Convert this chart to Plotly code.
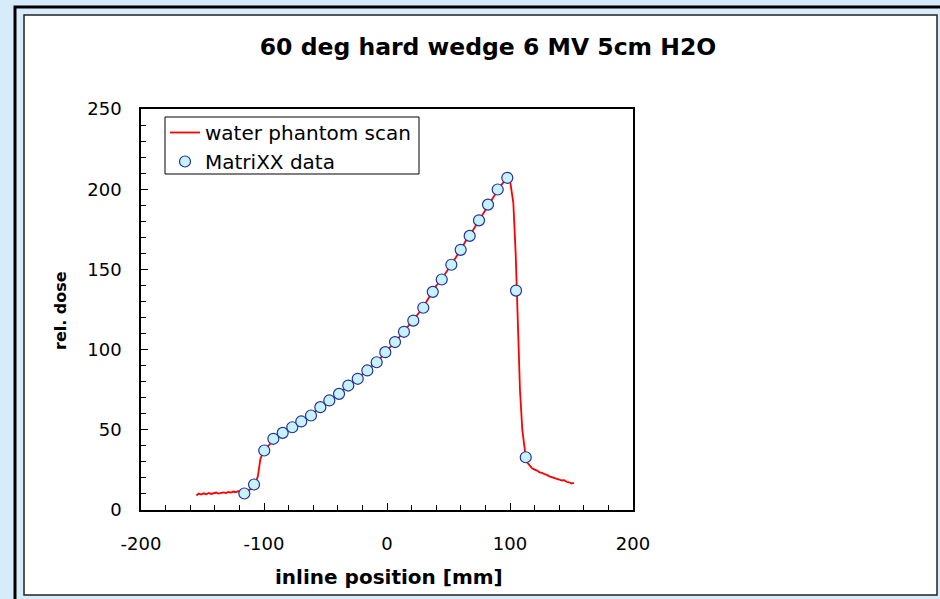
import plotly.graph_objects as go

# Water phantom scan (inline profile, 60 deg hard wedge, 6 MV, 5 cm depth)
scan_pos = [-155, -153, -151, -149, -147, -145, -143, -141, -139, -137, -135, -133,
            -131, -129, -127, -125, -123, -121, -119, -117, -115, -113, -111, -109,
            -107, -105, -103, -101, -99, -96, -92, -88, -84, -80, -76, -72, -68, -64,
            -60, -56, -52, -48, -44, -40, -36, -32, -28, -24, -20, -16, -12, -8, -4,
            0, 4, 8, 12, 16, 20, 24, 28, 32, 36, 40, 44, 48, 52, 56, 60, 64, 68, 72,
            76, 80, 84, 88, 92, 96, 98, 100, 102.7, 104.6, 105.4, 106.8, 108.1, 110,
            111.6, 112.8, 114, 116, 118, 120, 122, 124, 126, 128, 130, 132, 134, 136,
            138, 140, 142, 144, 146, 148, 150, 152]
scan_dose = [9.0, 10.2, 9.6, 10.4, 9.8, 10.6, 10.0, 10.3, 10.9, 10.2, 10.8, 11.0,
             10.5, 11.2, 10.9, 11.5, 11.1, 11.8, 11.6, 12.0, 11.7, 12.4, 12.6, 13.5,
             16.5, 21.0, 31.5, 36.0, 38.0, 40.5, 44.0, 46.8, 48.6, 50.5, 52.2, 54.0,
             56.0, 58.0, 60.2, 63.0, 65.6, 67.8, 70.0, 71.9, 74.3, 77.3, 79.5, 81.7,
             84.5, 87.0, 89.7, 92.4, 95.8, 99.6, 102.8, 105.9, 109.6, 113.0, 117.0,
             121.0, 124.8, 129.8, 135.0, 139.8, 143.4, 148.0, 152.6, 157.5, 162.2,
             167.8, 172.0, 177.0, 182.0, 187.5, 192.5, 197.5, 201.8, 205.5, 206.5,
             205.5, 191.5, 160.0, 137.0, 104.0, 75.0, 50.0, 39.5, 33.0, 29.5, 27.5,
             26.0, 25.2, 24.6, 23.5, 23.2, 22.3, 21.9, 21.0, 20.5, 20.4, 19.6, 19.0,
             18.4, 18.6, 17.6, 17.3, 16.5, 17.0]

# MatriXX detector readings
matrixx_pos = [-116.0, -108.1, -99.8, -92.4, -84.8, -77.0, -69.7, -61.8, -54.2, -46.9,
               -39.0, -31.5, -23.8, -16.0, -8.4, -1.4, 6.5, 13.8, 21.4, 29.5, 37.2,
               44.5, 52.3, 59.9, 67.2, 74.8, 82.1, 90.0, 97.8, 104.9, 112.8]
matrixx_dose = [10.3, 15.9, 37.1, 44.4, 48.1, 51.6, 55.2, 58.9, 64.1, 68.3, 72.4,
                77.6, 81.8, 87.0, 92.1, 98.4, 104.7, 111.1, 118.1, 126.1, 136.0,
                143.7, 152.9, 162.2, 170.9, 180.6, 190.4, 199.8, 207.1, 136.8, 32.9]

x_ticks = [-200, -100, 0, 100, 200]
y_ticks = [0, 50, 100, 150, 200, 250]

W, H = 940, 599
L, R, T, B = 141, 633, 109, 510  # plot area in pixels


def px_x(p):
    return (p - L) / (R - L)


def px_y(p):
    return (B - p) / (B - T)


FONT = "DejaVu Sans, Arial, sans-serif"

fig = go.Figure()
fig.add_trace(go.Scatter(
    x=scan_pos, y=scan_dose, mode="lines", name="water phantom scan",
    line=dict(color="#ff0000", width=1.8),
))
fig.add_trace(go.Scatter(
    x=matrixx_pos, y=matrixx_dose, mode="markers", name="MatriXX data",
    marker=dict(symbol="circle", size=11, color="#c8f2fb",
                line=dict(color="#22329a", width=1.2)),
))

shapes = [
    # outer frame
    dict(type="rect", xref="paper", yref="paper",
         x0=px_x(15), x1=px_x(950), y0=px_y(610), y1=px_y(7),
         line=dict(color="black", width=3), fillcolor="rgba(0,0,0,0)", layer="below"),
    # white panel
    dict(type="rect", xref="paper", yref="paper",
         x0=px_x(24), x1=px_x(937), y0=px_y(595), y1=px_y(15),
         line=dict(color="#222222", width=1.5), fillcolor="white", layer="below"),
    # legend frame
    dict(type="rect", xref="paper", yref="paper",
         x0=px_x(165), x1=px_x(419), y0=px_y(174), y1=px_y(117),
         line=dict(color="black", width=1), fillcolor="white", layer="below"),
]

fig.update_layout(
    width=W, height=H,
    margin=dict(l=L, r=W - R, t=T, b=H - B, pad=0),
    paper_bgcolor="#d6ecfb",
    plot_bgcolor="rgba(0,0,0,0)",
    font=dict(family=FONT, color="black", size=18),
    shapes=shapes,
    title=dict(text="<b>60 deg hard wedge 6 MV 5cm H2O</b>",
               xref="container", yref="container",
               x=488 / W, y=1 - 47 / H, xanchor="center", yanchor="middle",
               font=dict(family=FONT, size=23.5, color="black")),
    showlegend=True,
    legend=dict(x=px_x(165), y=px_y(113), xanchor="left", yanchor="top",
                bgcolor="rgba(0,0,0,0)", borderwidth=0,
                font=dict(family=FONT, size=20, color="black"),
                tracegroupgap=0, itemwidth=30),
    annotations=[
        dict(text="<b>rel. dose</b>", xref="paper", yref="paper",
             x=px_x(60), y=px_y(311), textangle=-90, showarrow=False,
             xanchor="center", yanchor="middle",
             font=dict(family=FONT, size=16, color="black")),
        dict(text="<b>inline position [mm]</b>", xref="paper", yref="paper",
             x=px_x(389), y=px_y(577), showarrow=False,
             xanchor="center", yanchor="middle",
             font=dict(family=FONT, size=20, color="black")),
    ],
)

fig.update_xaxes(
    range=[-200, 200], tickvals=x_ticks, ticktext=[str(v) for v in x_ticks],
    showgrid=False, zeroline=False,
    showline=True, linecolor="black", linewidth=1.5, mirror=True,
    ticks="inside", ticklen=7, tickwidth=1, tickcolor="black",
    minor=dict(dtick=20, tick0=0, ticks="inside", ticklen=5, tickwidth=1,
               tickcolor="black", showgrid=False),
    ticklabelstandoff=17,
)
fig.update_yaxes(
    range=[0, 250], tickvals=y_ticks, ticktext=[str(v) for v in y_ticks],
    showgrid=False, zeroline=False,
    showline=True, linecolor="black", linewidth=1.5, mirror=True,
    ticks="inside", ticklen=7, tickwidth=1, tickcolor="black",
    minor=dict(dtick=10, tick0=0, ticks="inside", ticklen=5, tickwidth=1,
               tickcolor="black", showgrid=False),
    ticklabelstandoff=14,
)

fig.write_html("out.html")
